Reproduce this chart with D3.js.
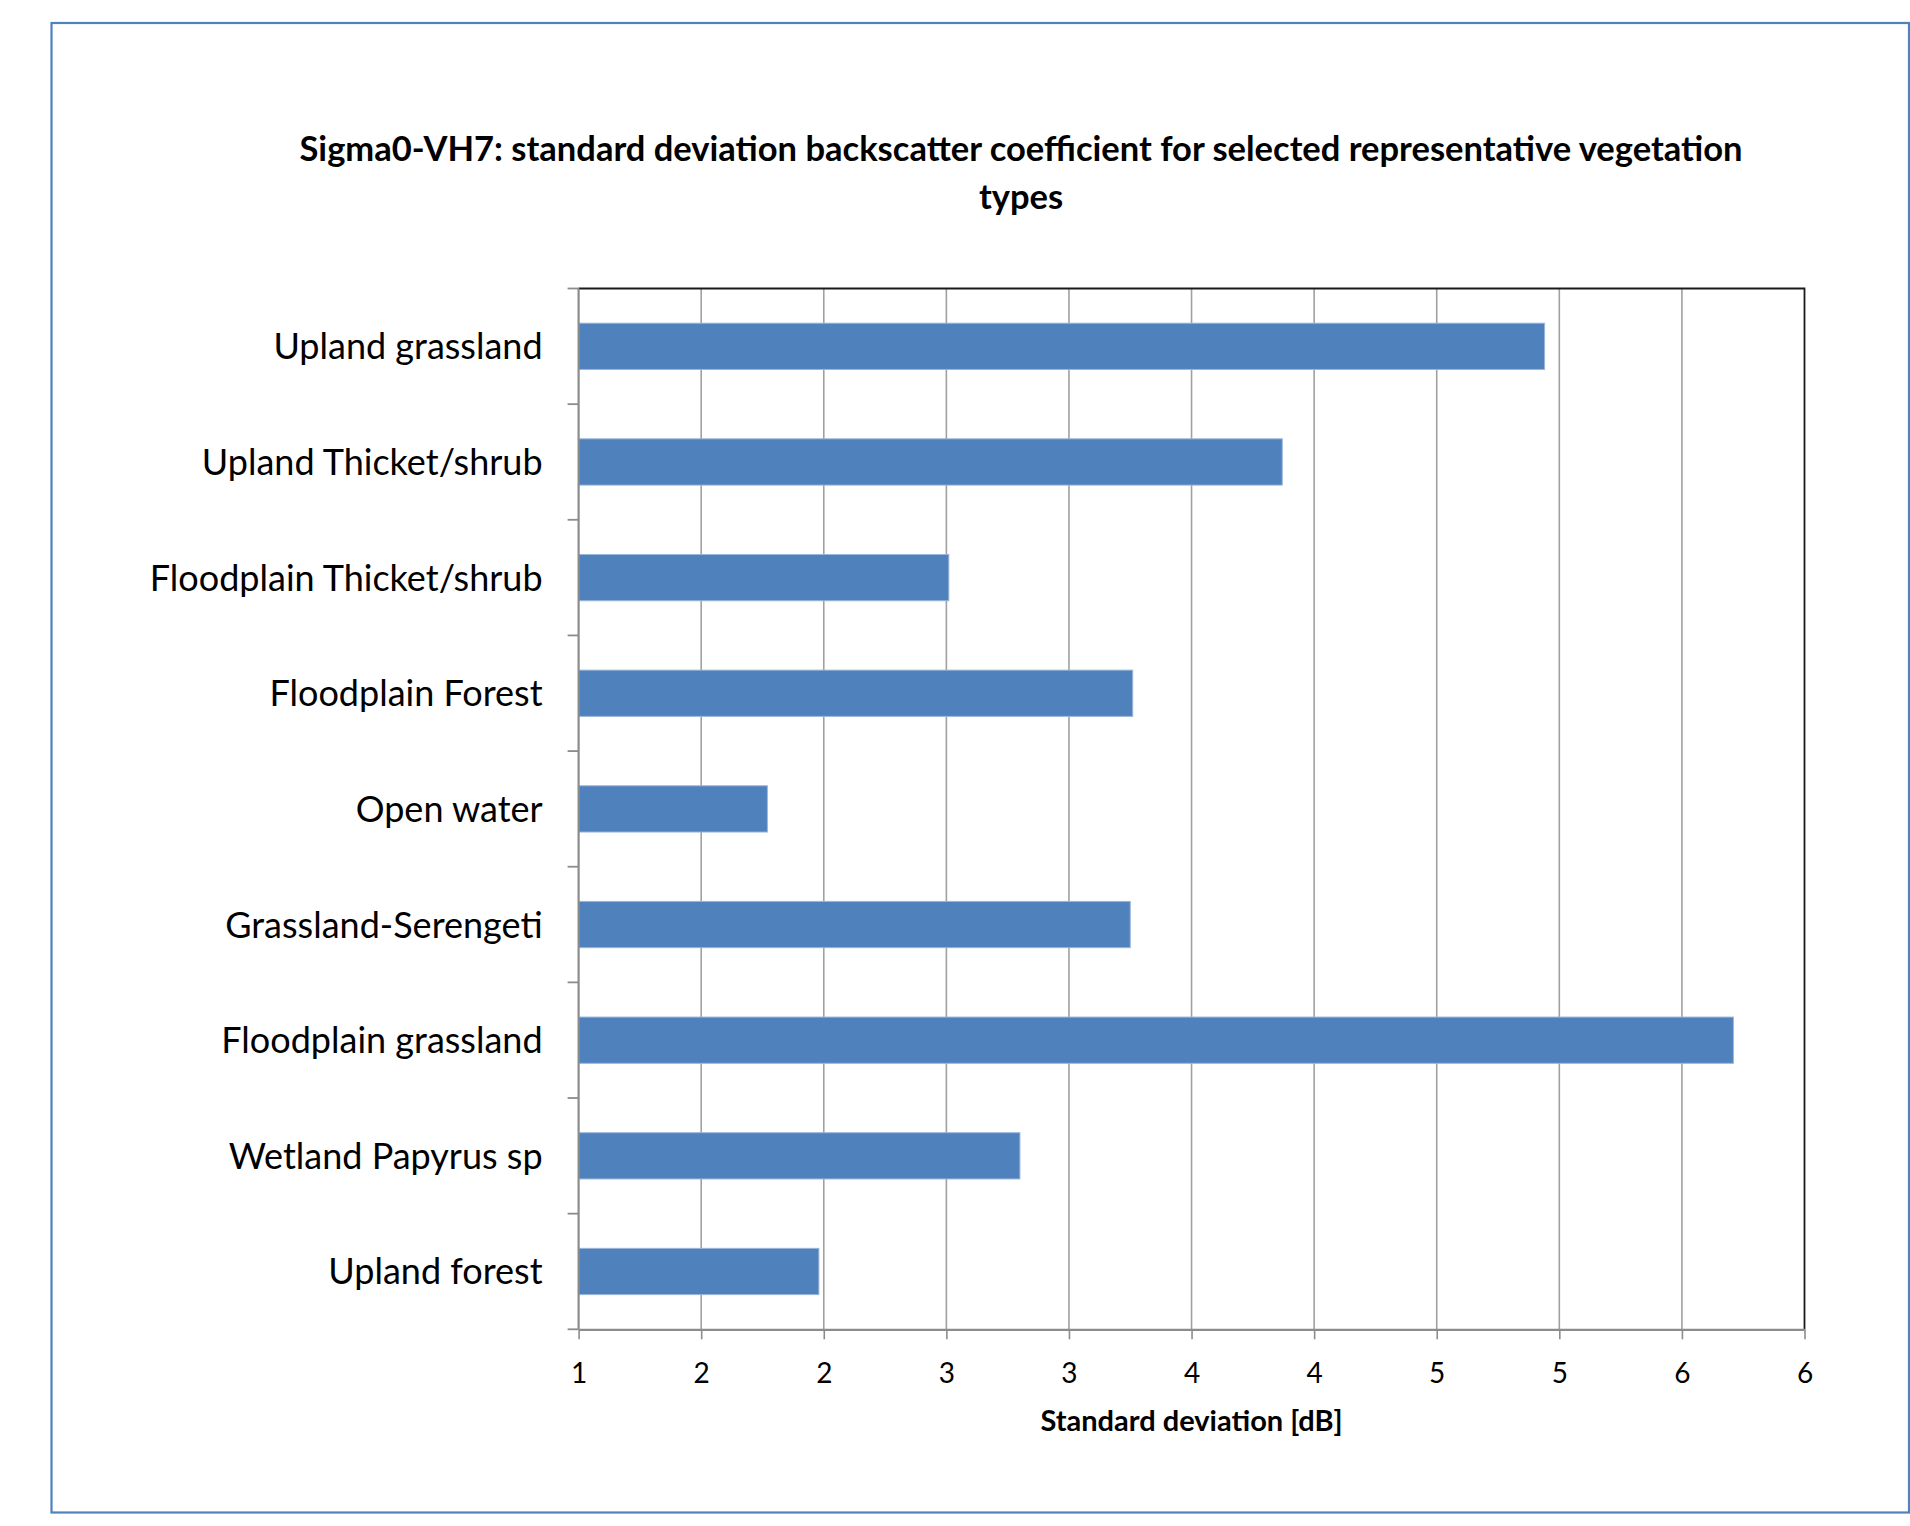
<!DOCTYPE html>
<html>
<head>
<meta charset="utf-8">
<script src="https://cdn.jsdelivr.net/npm/d3@7"></script>
<style>
  html, body { margin: 0; padding: 0; background: #ffffff; }
  svg { display: block; }
  text { font-family: Lato, "Open Sans", sans-serif; fill: #000; }
</style>
</head>
<body>
<svg id="chart" width="1910" height="1526"></svg>
<script>
// Vegetation types, top to bottom
const categories = [
  "Upland grassland",
  "Upland Thicket/shrub",
  "Floodplain Thicket/shrub",
  "Floodplain Forest",
  "Open water",
  "Grassland-Serengeti",
  "Floodplain grassland",
  "Wetland Papyrus sp",
  "Upland forest"
];

// Standard deviation of backscatter [dB]
const values = [4.94, 3.87, 2.51, 3.26, 1.77, 3.25, 5.71, 2.80, 1.98];

// Axis ticks every 0.5 dB, labelled with whole-number rounding
const tickValues = [1, 1.5, 2, 2.5, 3, 3.5, 4, 4.5, 5, 5.5, 6];
const tickLabels = ["1", "2", "2", "3", "3", "4", "4", "5", "5", "6", "6"];

const titleLines = [
  "Sigma0-VH7: standard deviation backscatter coefficient for selected representative vegetation",
  "types"
];
const xTitle = "Standard deviation [dB]";

const svg = d3.select("#chart");

// outer chart frame
svg.append("rect")
  .attr("x", 51.5).attr("y", 23)
  .attr("width", 1857.5).attr("height", 1489.5)
  .attr("fill", "#fff")
  .attr("stroke", "#4F81BD").attr("stroke-width", 2.2);

const plot = { left: 578.6, right: 1804.5, top: 288.5, bottom: 1329.3 };

const x = d3.scaleLinear().domain([1, 6]).range([plot.left, plot.right]);
const y = d3.scaleBand().domain(categories).range([plot.top, plot.bottom])
  .paddingInner(0.6).paddingOuter(0.3);
const yEdges = d3.scaleBand().domain(categories).range([plot.top, plot.bottom]);

// vertical gridlines
svg.append("g")
  .selectAll("line")
  .data(tickValues.slice(1, -1))
  .join("line")
  .attr("x1", d => x(d)).attr("x2", d => x(d))
  .attr("y1", plot.top).attr("y2", plot.bottom)
  .attr("stroke", "#a0a0a0").attr("stroke-width", 1.6);

// plot-area border (top and right)
svg.append("path")
  .attr("d", `M${plot.left},${plot.top}H${plot.right}V${plot.bottom}`)
  .attr("fill", "none").attr("stroke", "#1a1a1a").attr("stroke-width", 1.8);

// bars
svg.append("g")
  .selectAll("rect")
  .data(categories.map((c, i) => ({ c, v: values[i] })))
  .join("rect")
  .attr("x", x(1))
  .attr("y", d => y(d.c))
  .attr("width", d => x(d.v) - x(1))
  .attr("height", y.bandwidth())
  .attr("fill", "#4F81BD")
  .attr("stroke", "#9ab6d9").attr("stroke-width", 1);

// x axis
const xAxis = d3.axisBottom(x)
  .tickValues(tickValues)
  .tickFormat((d, i) => tickLabels[i])
  .tickSize(10).tickSizeOuter(0).tickPadding(24);
const gx = svg.append("g")
  .attr("transform", `translate(0,${plot.bottom})`)
  .call(xAxis);
gx.select(".domain").attr("stroke", "#8c8c8c").attr("stroke-width", 2.2);
gx.selectAll(".tick line").attr("stroke", "#8c8c8c").attr("stroke-width", 1.6);
gx.selectAll(".tick text")
  .attr("font-family", "Lato, sans-serif")
  .attr("font-size", 28).attr("fill", "#000");

// y axis: category ticks sit on band boundaries
const gy = svg.append("g");
gy.append("line")
  .attr("x1", plot.left).attr("x2", plot.left)
  .attr("y1", plot.top).attr("y2", plot.bottom)
  .attr("stroke", "#8c8c8c").attr("stroke-width", 2.2);
const boundaries = categories.map(c => yEdges(c)).concat([plot.bottom]);
gy.selectAll("line.tick")
  .data(boundaries)
  .join("line").attr("class", "tick")
  .attr("x1", plot.left - 11).attr("x2", plot.left)
  .attr("y1", d => d).attr("y2", d => d)
  .attr("stroke", "#8c8c8c").attr("stroke-width", 1.8);
gy.selectAll("text")
  .data(categories)
  .join("text")
  .attr("x", plot.left - 36)
  .attr("y", d => yEdges(d) + yEdges.bandwidth() / 2)
  .attr("dy", "0.36em")
  .attr("text-anchor", "end")
  .attr("font-size", 36)
  .text(d => d);

// title
svg.append("g")
  .selectAll("text")
  .data(titleLines)
  .join("text")
  .attr("x", 1021)
  .attr("y", (d, i) => 149 + i * 48)
  .attr("dy", "0.36em")
  .attr("text-anchor", "middle")
  .attr("font-weight", "bold")
  .attr("font-size", 34.5)
  .text(d => d);

// x axis title
svg.append("text")
  .attr("x", (plot.left + plot.right) / 2)
  .attr("y", 1421)
  .attr("dy", "0.36em")
  .attr("text-anchor", "middle")
  .attr("font-weight", "bold")
  .attr("font-size", 29)
  .text(xTitle);
</script>
</body>
</html>
